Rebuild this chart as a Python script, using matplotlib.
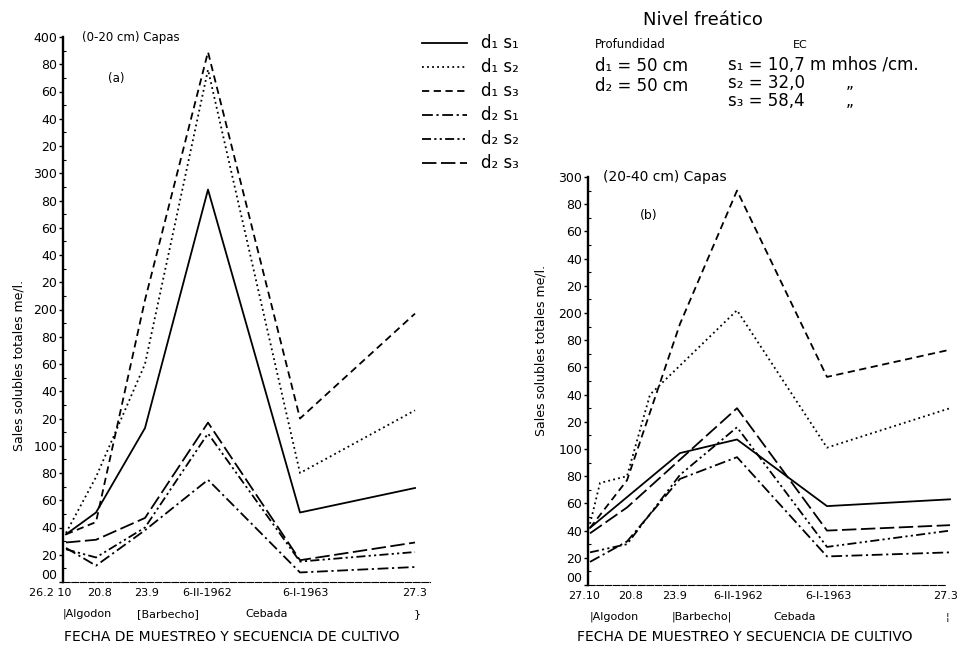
import numpy as np
import matplotlib
matplotlib.use("Agg")
import matplotlib.pyplot as plt
from matplotlib.lines import Line2D

plt.rcParams['font.family'] = ['DejaVu Sans']

nan = np.nan

# sampling positions along x (distance from the y axis, as drawn)
x_a = [3, 33, 82, 145, 237, 352]
x_b = [2, 12, 39, 62, 92, 149, 239, 362]

# (a) 0-20 cm, sales solubles totales me/l
a_d1s1 = [35, 51, 113, 288, 51, 69]
a_d1s2 = [36, 77, 160, 376, 80, 126]
a_d1s3 = [35, 44, 207, 389, 120, 197]
a_d2s1 = [25, 12, 38, 75, 7, 11]
a_d2s2 = [24, 18, 40, 109, 15, 22]
a_d2s3 = [29, 31, 47, 117, 16, 29]

# (b) 20-40 cm
b_d1s1 = [42, nan, nan, nan, 97, 107, 58, 63]
b_d1s2 = [45, 75, 80, 140, nan, 202, 101, 130]
b_d1s3 = [42, nan, 77, nan, 192, 290, 153, 173]
b_d2s1 = [17, nan, 32, nan, 78, 94, 21, 24]
b_d2s2 = [24, nan, 30, nan, 81, 116, 28, 40]
b_d2s3 = [38, nan, 57, nan, nan, 130, 40, 44]

series_names = ['d₁ s₁', 'd₁ s₂', 'd₁ s₃', 'd₂ s₁', 'd₂ s₂', 'd₂ s₃']

# x labels (sampling dates) and crop sequence
date_labels = ['26.2 10', '20.8', '23.9', '6-II-1962', '6-I-1963', '27.3']
date_pos_a = [-13, 37, 84, 144, 242, 352]
date_labels_b = ['27.10', '20.8', '23.9', '6-II-1962', '6-I-1963', '27.3']
date_pos_b = [-4, 43, 87, 150, 240, 358]
crop_a = [('|Algodon', 0, 'left'), ('[Barbecho]', 74, 'left'), ('Cebada', 204, 'center'), ('}', 354, 'center')]
crop_b = [('|Algodon', 2, 'left'), ('|Barbecho|', 84, 'left'), ('Cebada', 207, 'center'), ('¦', 359, 'center')]

styles = ['-', (0, (1, 1.8)), (0, (4, 2.5)), (0, (6, 2, 1.2, 2)),
          (0, (5, 1.8, 1.2, 1.8, 1.2, 1.8)), (0, (8, 2.5))]

W, H = 965, 660
fig = plt.figure(figsize=(W / 100, H / 100), dpi=100)


def fx(px):
    return px / W


def fy(py):
    return 1 - py / H


ax_a = fig.add_axes([fx(63), fy(582), (430 - 63) / W, (582 - 37) / H])
ax_b = fig.add_axes([fx(588), fy(585), (945 - 588) / W, (585 - 177) / H])


def tick_text(v):
    if v == 0:
        return '00'
    if v % 100 == 0:
        return str(v)
    return '%02d' % (v % 100)


def setup(ax, top, xmax):
    ax.set_xlim(0, xmax)
    ax.set_ylim(0, top)
    for s in ['top', 'right']:
        ax.spines[s].set_visible(False)
    ax.spines['left'].set_linewidth(1.7)
    ax.spines['bottom'].set_linewidth(0.8)
    ax.spines['bottom'].set_linestyle((0, (6, 1.5)))
    ax.set_xticks([])
    yt = list(range(0, top + 1, 20))
    ax.set_yticks(yt)
    ax.set_yticklabels([tick_text(v) for v in yt], fontsize=9)
    ax.set_yticks(list(range(10, top, 20)), minor=True)
    ax.tick_params(axis='y', which='major', direction='out', length=3, width=1, pad=1)
    ax.tick_params(axis='y', which='minor', direction='in', length=2.5, width=0.8)
    ax.yaxis.get_major_ticks()[0].label1.set_va('bottom')
    ax.patch.set_alpha(0)


def draw(ax, x, ys):
    x = np.array(x, dtype=float)
    for y, ls in zip(ys, styles):
        y = np.array(y, dtype=float)
        m = ~np.isnan(y)
        ax.plot(x[m], y[m], color='black', lw=1.3, linestyle=ls, clip_on=False)


setup(ax_a, 400, 367)
setup(ax_b, 300, 357)
draw(ax_a, x_a, [a_d1s1, a_d1s2, a_d1s3, a_d2s1, a_d2s2, a_d2s3])
draw(ax_b, x_b, [b_d1s1, b_d1s2, b_d1s3, b_d2s1, b_d2s2, b_d2s3])

for ax, labs, pos, crops in [(ax_a, date_labels, date_pos_a, crop_a),
                             (ax_b, date_labels_b, date_pos_b, crop_b)]:
    tr = ax.get_xaxis_transform()
    h = ax.get_position().height * H
    for lab, p in zip(labs, pos):
        ax.text(p, -11 / h, lab, transform=tr, ha='center', va='center', fontsize=8)
    for lab, p, ha in crops:
        ax.text(p, -32 / h, lab, transform=tr, ha=ha, va='center', fontsize=8)

ax_a.text(19, 1.0, '(0-20 cm) Capas', transform=ax_a.get_xaxis_transform(),
          ha='left', va='center', fontsize=8.5)
ax_a.text(45, 0.924, '(a)', transform=ax_a.get_xaxis_transform(),
          ha='left', va='center', fontsize=8.5)
ax_b.text(15, 1.0, '(20-40 cm) Capas', transform=ax_b.get_xaxis_transform(),
          ha='left', va='center', fontsize=10)
ax_b.text(52, 0.906, '(b)', transform=ax_b.get_xaxis_transform(),
          ha='left', va='center', fontsize=9)

fig.text(fx(19), fy(365), 'Sales solubles totales me/l.', rotation=90,
         ha='center', va='center', fontsize=9)
fig.text(fx(541), fy(350), 'Sales solubles totales me/l.', rotation=90,
         ha='center', va='center', fontsize=9)

fig.text(fx(232), fy(637), 'FECHA DE MUESTREO Y SECUENCIA DE CULTIVO',
         ha='center', va='center', fontsize=10)
fig.text(fx(577), fy(637), 'FECHA DE MUESTREO Y SECUENCIA DE CULTIVO',
         ha='left', va='center', fontsize=10)

# legend
for i, (name, ls) in enumerate(zip(series_names, styles)):
    yy = 43 + i * 24
    fig.add_artist(Line2D([fx(422), fx(467)], [fy(yy), fy(yy)], color='black',
                          lw=1.3, linestyle=ls, transform=fig.transFigure))
    fig.text(fx(481), fy(yy), name, ha='left', va='center', fontsize=12)

# water table info
fig.text(fx(703), fy(20), 'Nivel freático', ha='center', va='center', fontsize=13)
fig.text(fx(595), fy(45), 'Profundidad', ha='left', va='center', fontsize=8.5)
fig.text(fx(595), fy(66), 'd₁ = 50 cm', ha='left', va='center', fontsize=12)
fig.text(fx(595), fy(86), 'd₂ = 50 cm', ha='left', va='center', fontsize=12)
fig.text(fx(800), fy(45), 'EC', ha='center', va='center', fontsize=8)
fig.text(fx(728), fy(65), 's₁ = 10,7 m mhos /cm.', ha='left', va='center', fontsize=12)
fig.text(fx(728), fy(83), 's₂ = 32,0', ha='left', va='center', fontsize=12)
fig.text(fx(728), fy(101), 's₃ = 58,4', ha='left', va='center', fontsize=12)
fig.text(fx(850), fy(83), '„', ha='center', va='center', fontsize=11)
fig.text(fx(850), fy(101), '„', ha='center', va='center', fontsize=11)

fig.savefig('out.png', dpi=100)
